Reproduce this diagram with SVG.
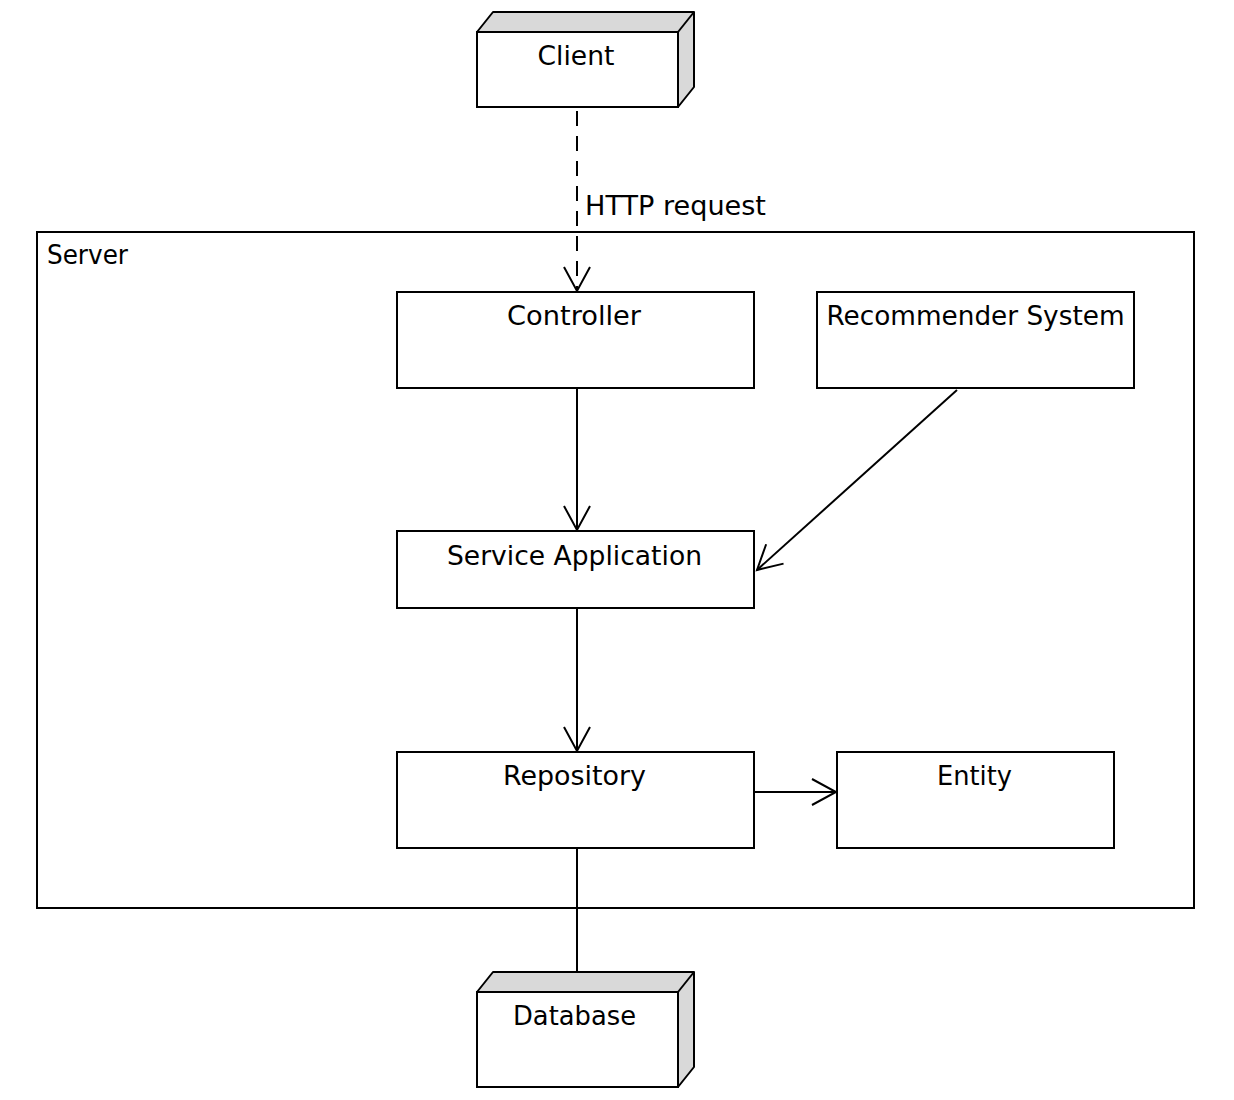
<svg xmlns="http://www.w3.org/2000/svg" width="1234" height="1100" viewBox="0 0 1234 1100">
<style>
.box{fill:#fff;stroke:#000;stroke-width:2}
.side{fill:#d9d9d9;stroke:#000;stroke-width:2;stroke-linejoin:round}
.t{font-family:"DejaVu Sans",sans-serif;font-size:26px;fill:#000}
.c{text-anchor:middle}
.ln{fill:none;stroke:#000;stroke-width:2}
</style>
<defs>
<marker id="arr" markerUnits="userSpaceOnUse" markerWidth="40" markerHeight="40" viewBox="-30 -20 40 40" refX="0" refY="0" orient="auto">
<path d="M-24,-13 L0,0 L-24,13" fill="none" stroke="#000" stroke-width="2"/>
</marker>
</defs>
<rect width="1234" height="1100" fill="#fff"/>
<g id="server">
<rect class="box" x="37" y="232" width="1157" height="676"/>
<text class="t" x="47" y="264" textLength="81" lengthAdjust="spacingAndGlyphs">Server</text>
</g>
<g id="client">
<polygon class="side" points="477,32 493,12 694,12 694,87 678,107 678,32"/>
<line class="ln" x1="678" y1="32" x2="694" y2="12"/>
<rect class="box" x="477" y="32" width="201" height="75"/>
<text class="t c" x="576" y="65" textLength="77" lengthAdjust="spacingAndGlyphs">Client</text>
</g>
<g id="controller">
<rect class="box" x="397" y="292" width="357" height="96"/>
<text class="t c" x="574" y="325" textLength="134" lengthAdjust="spacingAndGlyphs">Controller</text>
</g>
<g id="recommender">
<rect class="box" x="817" y="292" width="317" height="96"/>
<text class="t c" x="975.5" y="325" textLength="298" lengthAdjust="spacingAndGlyphs">Recommender System</text>
</g>
<g id="service">
<rect class="box" x="397" y="531" width="357" height="77"/>
<text class="t c" x="574.5" y="565" textLength="255" lengthAdjust="spacingAndGlyphs">Service Application</text>
</g>
<g id="repository">
<rect class="box" x="397" y="752" width="357" height="96"/>
<text class="t c" x="574.5" y="785" textLength="143" lengthAdjust="spacingAndGlyphs">Repository</text>
</g>
<g id="entity">
<rect class="box" x="837" y="752" width="277" height="96"/>
<text class="t c" x="974.5" y="785" textLength="75" lengthAdjust="spacingAndGlyphs">Entity</text>
</g>
<g id="database">
<polygon class="side" points="477,992 493,972 694,972 694,1067 678,1087 678,992"/>
<line class="ln" x1="678" y1="992" x2="694" y2="972"/>
<rect class="box" x="477" y="992" width="201" height="95"/>
<text class="t c" x="574.5" y="1025" textLength="123" lengthAdjust="spacingAndGlyphs">Database</text>
</g>
<g id="connectors">
<line class="ln" x1="577" y1="111" x2="577" y2="291" stroke-dasharray="15,10" marker-end="url(#arr)"/>
<text class="t" x="585" y="215" textLength="181" lengthAdjust="spacingAndGlyphs">HTTP request</text>
<line class="ln" x1="577" y1="389" x2="577" y2="530" marker-end="url(#arr)"/>
<line class="ln" x1="957" y1="390" x2="757" y2="570" marker-end="url(#arr)"/>
<line class="ln" x1="577" y1="609" x2="577" y2="751" marker-end="url(#arr)"/>
<line class="ln" x1="755" y1="792" x2="836" y2="792" marker-end="url(#arr)"/>
<line class="ln" x1="577" y1="848" x2="577" y2="972"/>
</g>
</svg>
